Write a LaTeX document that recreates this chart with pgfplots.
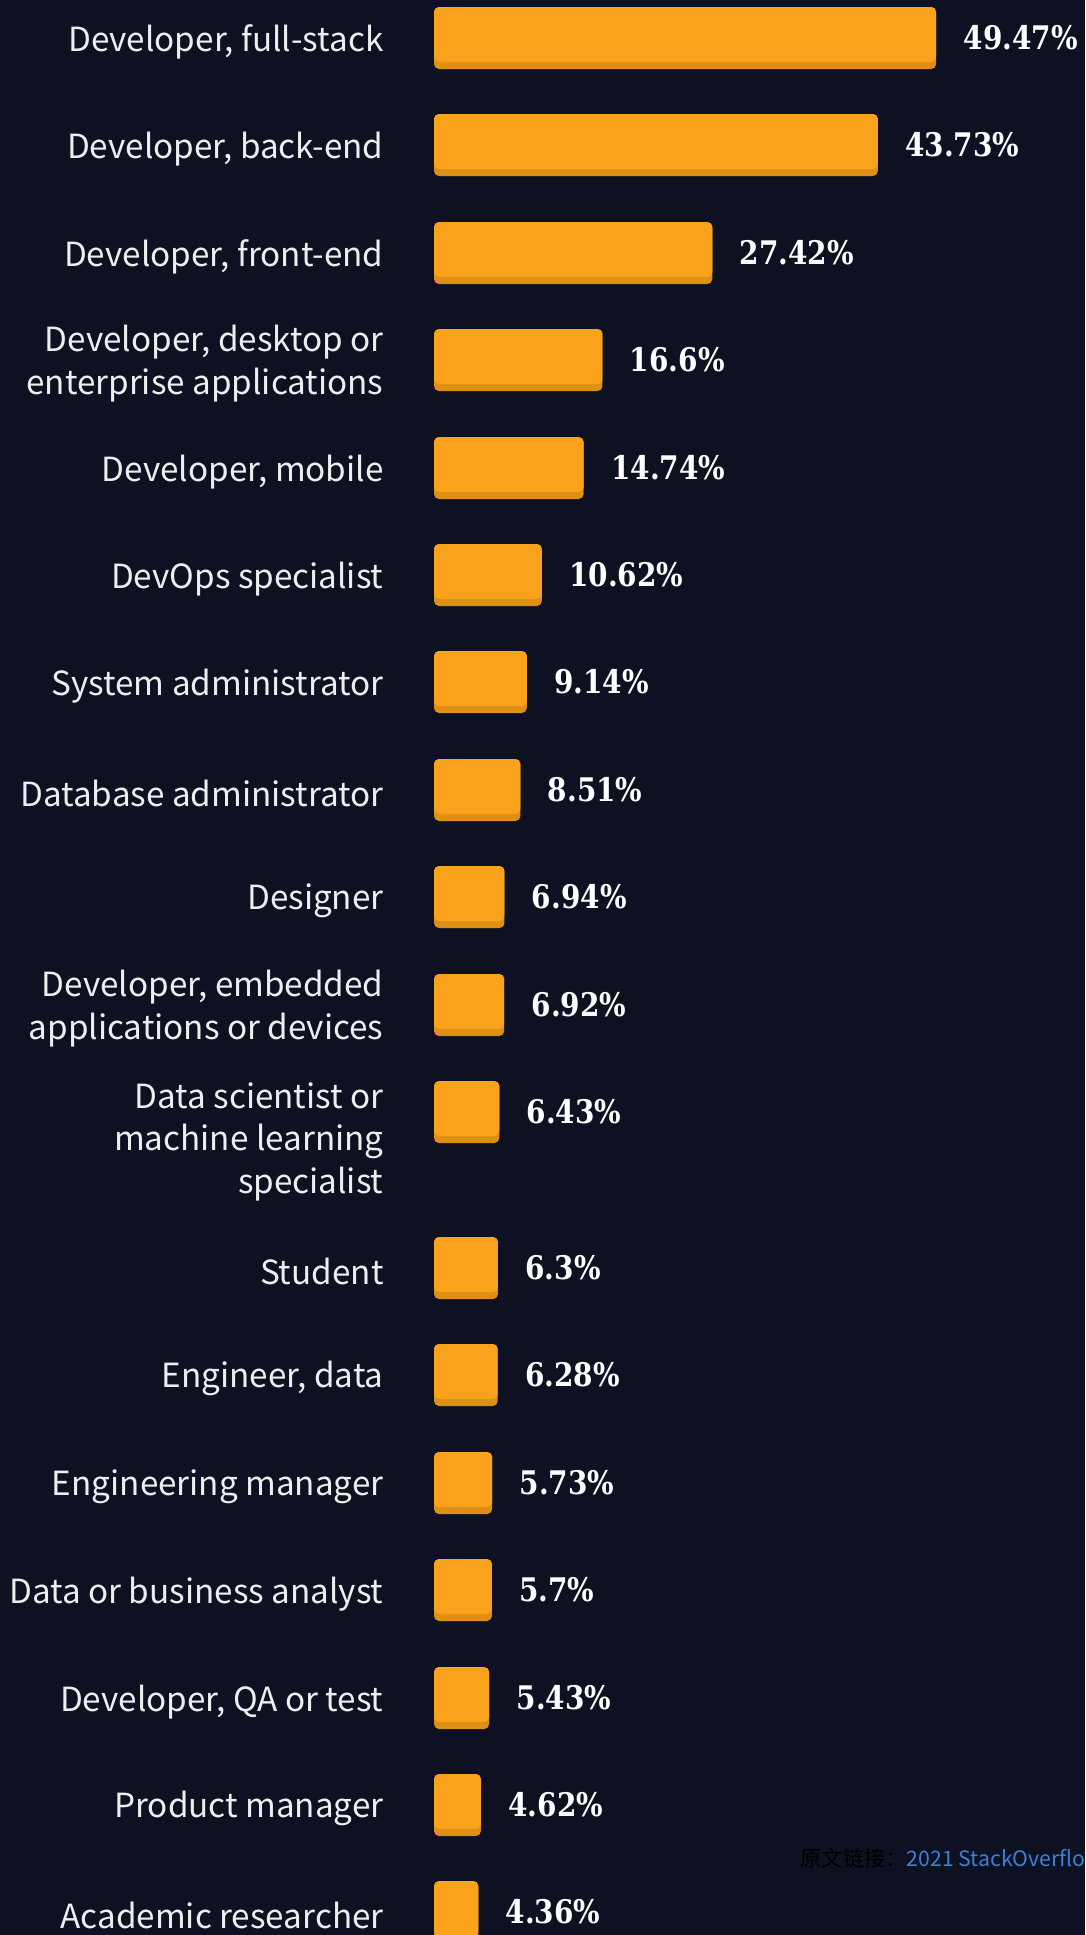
\documentclass[border=0pt]{standalone}
\usepackage{fontspec}
\usepackage{pgfplots}
\usepackage{pgfplotstable}
\pgfplotsset{compat=1.18}
\newfontfamily\labfont{Noto Sans CJK SC}
\newfontfamily\cjk{Noto Sans CJK SC}
\newfontfamily\valfont{DejaVu Serif}[FakeStretch=0.86]
\definecolor{bg}{HTML}{0E1121}
\definecolor{barorange}{HTML}{FAA21B}
\definecolor{bardark}{HTML}{DE9016}
\definecolor{labcol}{HTML}{EEEEEE}
\definecolor{linkblue}{HTML}{3C7FDB}

% y = bar centre in pixels from the top, val = share in percent
\pgfplotstableread{
y    val
38   49.47
145  43.73
253  27.42
360  16.6
468  14.74
575  10.62
682  9.14
790  8.51
897  6.94
1005 6.92
1112 6.43
1268 6.3
1375 6.28
1483 5.73
1590 5.7
1698 5.43
1805 4.62
1912 4.36
}\roles

\begin{document}
\begin{tikzpicture}
\begin{axis}[
  name=ax,
  scale only axis,
  width=434pt, height=774pt,
  xmin=-42.76, xmax=64.14,
  ymin=0, ymax=1935, y dir=reverse,
  axis background/.style={fill=bg},
  axis line style={draw=none},
  major tick length=0pt,
  tick style={draw=none},
  xtick=\empty,
  ytick={38,145,253,360,468,575,682,790,897,1005,1268,1375,1483,1590,1698,1805,1912},
  yticklabels={
    {Developer, full-stack},
    {Developer, back-end},
    {Developer, front-end},
    {Developer, desktop or\\enterprise applications},
    {Developer, mobile},
    {DevOps specialist},
    {System administrator},
    {Database administrator},
    {Designer},
    {Developer, embedded\\applications or devices},
    {Student},
    {Engineer, data},
    {Engineering manager},
    {Data or business analyst},
    {Developer, QA or test},
    {Product manager},
    {Academic researcher}},
  extra y ticks={1112},
  extra y tick labels={{Data scientist or\\machine learning\\specialist}},
  extra y tick style={yticklabel style={yshift=-10.3pt}},
  yticklabel style={font=\labfont\fontsize{13.3}{17}\selectfont, text=labcol,
    align=right, anchor=east, inner sep=0pt, xshift=153.6pt, yshift=-1.5pt},
  xbar,
  bar width=62,
  /pgf/number format/assume math mode=true,
]
\addplot[fill=bardark, draw=none, rounded corners=2pt, bar shift=0,
  point meta=x,
  nodes near coords={\pgfmathprintnumber{\pgfplotspointmeta}\%},
  every node near coord/.append style={font=\valfont\bfseries\fontsize{13}{15}\selectfont,
    text=white, anchor=west, inner sep=0pt, xshift=10.8pt}]
  table[x=val, y=y] {\roles};
\addplot[fill=barorange, draw=none, rounded corners=2pt, bar width=55, bar shift=-3.5]
  table[x=val, y=y] {\roles};
\node[anchor=west, inner sep=0pt, font=\cjk\fontsize{8.5}{10}\selectfont]
  at (axis cs:36.06,1858) {\textcolor{black}{原文链接：}\textcolor{linkblue}{2021 StackOverflow}};
\end{axis}
\pgfresetboundingbox
\path[use as bounding box] (ax.south west) rectangle (ax.north east);
\end{tikzpicture}
\end{document}
